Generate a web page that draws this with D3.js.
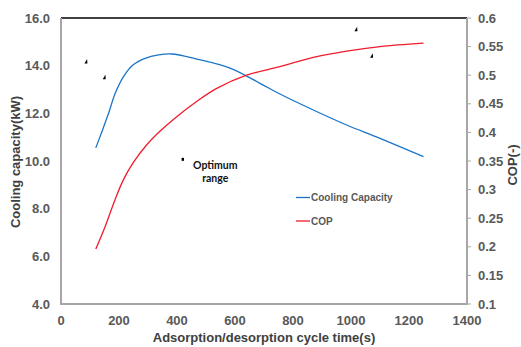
<!doctype html>
<html>
<head>
<meta charset="utf-8">
<script src="https://cdn.jsdelivr.net/npm/d3@7"></script>
<style>
  body { margin: 0; background: #fff; }
  svg { display: block; font-family: "Liberation Sans", Arial, sans-serif; }
</style>
</head>
<body>
<script>
// Cooling capacity (kW) vs cycle time (s).
const capTime = [120, 141, 164, 187, 216, 248, 290, 336, 382, 462, 583, 686, 755, 870, 985, 1100, 1250];
const capValue = [10.55, 11.23, 12.0, 12.84, 13.55, 14.03, 14.31, 14.45, 14.49, 14.3, 13.9, 13.26, 12.81, 12.14, 11.51, 10.95, 10.18];

// COP (-) vs cycle time (s).
const copTime = [120, 152, 186, 215, 249, 295, 341, 400, 470, 537, 640, 755, 870, 985, 1100, 1250];
const copValue = [0.196, 0.235, 0.282, 0.317, 0.347, 0.378, 0.402, 0.428, 0.455, 0.477, 0.5, 0.515, 0.531, 0.542, 0.55, 0.556];

// Small stray marks in the original figure (time, kW).
const markTime = [86, 149, 1017, 1071];
const markValue = [14.17, 13.51, 15.53, 14.42];

const xTicks = [0, 200, 400, 600, 800, 1000, 1200, 1400];
const yLeftTicks = [4, 6, 8, 10, 12, 14, 16];
const yRightTicks = [0.1, 0.15, 0.2, 0.25, 0.3, 0.35, 0.4, 0.45, 0.5, 0.55, 0.6];

const width = 521;
const height = 347;
const marginTop = 18;
const marginRight = 54;
const marginBottom = 43;
const marginLeft = 61;

const x = d3.scaleLinear([0, 1400], [marginLeft, width - marginRight]);
const yL = d3.scaleLinear([4, 16], [height - marginBottom, marginTop]);
const yR = d3.scaleLinear([0.1, 0.6], [height - marginBottom, marginTop]);

const svg = d3.select("body").append("svg")
    .attr("width", width)
    .attr("height", height);

const tickColor = "#595959";
const axisColor = "#a6a6a6";

// Frame: black top, grey left/bottom/right.
svg.append("line")
    .attr("x1", x(0)).attr("x2", x(1400))
    .attr("y1", yL(16)).attr("y2", yL(16))
    .attr("stroke", "#000").attr("stroke-width", 1.5);

svg.append("line")
    .attr("x1", x(0)).attr("x2", x(0))
    .attr("y1", yL(16)).attr("y2", yL(4))
    .attr("stroke", axisColor).attr("stroke-width", 2);

svg.append("line")
    .attr("x1", x(1400)).attr("x2", x(1400))
    .attr("y1", yL(16)).attr("y2", yL(4))
    .attr("stroke", axisColor).attr("stroke-width", 2);

svg.append("line")
    .attr("x1", x(0) - 1).attr("x2", x(1400) + 1)
    .attr("y1", yL(4)).attr("y2", yL(4))
    .attr("stroke", axisColor).attr("stroke-width", 2);

// Left axis labels.
svg.append("g")
    .attr("font-size", 13).attr("font-weight", "bold").attr("fill", tickColor)
    .attr("text-anchor", "end")
  .selectAll("text")
  .data(yLeftTicks)
  .join("text")
    .attr("x", marginLeft - 11)
    .attr("y", (d) => yL(d))
    .attr("dy", "0.36em")
    .text((d) => d.toFixed(1));

// Right axis ticks and labels.
const gR = svg.append("g")
  .selectAll("g")
  .data(yRightTicks)
  .join("g")
    .attr("transform", (d) => `translate(${x(1400)},${yR(d)})`);

gR.append("line")
    .attr("x1", 0).attr("x2", 4)
    .attr("stroke", axisColor).attr("stroke-width", 1);

gR.append("text")
    .attr("x", 11)
    .attr("dy", "0.36em")
    .attr("font-size", 13).attr("font-weight", "bold").attr("fill", tickColor)
    .text((d) => d3.format("")(+d.toFixed(2)));

// Bottom axis labels.
svg.append("g")
    .attr("font-size", 13).attr("font-weight", "bold").attr("fill", tickColor)
    .attr("text-anchor", "middle")
  .selectAll("text")
  .data(xTicks)
  .join("text")
    .attr("x", (d) => x(d))
    .attr("y", height - marginBottom + 21)
    .text((d) => d);

// Axis titles.
svg.append("text")
    .attr("x", (x(0) + x(1400)) / 2)
    .attr("y", 342)
    .attr("text-anchor", "middle")
    .attr("font-size", 13).attr("font-weight", "bold").attr("fill", "#404040")
    .text("Adsorption/desorption cycle time(s)");

svg.append("text")
    .attr("transform", `translate(20,${(yL(4) + yL(16)) / 2 + 1}) rotate(-90)`)
    .attr("text-anchor", "middle")
    .attr("font-size", 13).attr("font-weight", "bold").attr("fill", "#404040")
    .text("Cooling capacity(kW)");

svg.append("text")
    .attr("transform", `translate(517,${(yL(4) + yL(16)) / 2 + 4}) rotate(-90)`)
    .attr("text-anchor", "middle")
    .attr("font-size", 13).attr("font-weight", "bold").attr("fill", "#404040")
    .text("COP(-)");

// Curves.
const capLine = d3.line()
    .x((i) => x(capTime[i]))
    .y((i) => yL(capValue[i]))
    .curve(d3.curveCatmullRom.alpha(0.5));

const copLine = d3.line()
    .x((i) => x(copTime[i]))
    .y((i) => yR(copValue[i]))
    .curve(d3.curveCatmullRom.alpha(0.5));

svg.append("path")
    .attr("d", capLine(d3.range(capTime.length)))
    .attr("fill", "none")
    .attr("stroke", "#1a75c9")
    .attr("stroke-width", 1.3);

svg.append("path")
    .attr("d", copLine(d3.range(copTime.length)))
    .attr("fill", "none")
    .attr("stroke", "#f01c2c")
    .attr("stroke-width", 1.3);

// Stray little wedges.
svg.append("g")
  .selectAll("path")
  .data(d3.range(markTime.length))
  .join("path")
    .attr("transform", (i) => `translate(${x(markTime[i])},${yL(markValue[i])})`)
    .attr("d", "M-1.5,2L1.5,2L1.2,-2.5Z")
    .attr("fill", "#000");

svg.append("rect")
    .attr("x", x(420) - 1.2).attr("y", yL(10.07) - 1.5)
    .attr("width", 2.4).attr("height", 3)
    .attr("fill", "#000");

// "Optimum range" annotation.
svg.append("text")
    .attr("x", x(532))
    .attr("y", yL(10.1) + 1)
    .attr("text-anchor", "middle")
    .attr("font-family", "Lato, 'Open Sans', sans-serif")
    .attr("font-size", 10.5).attr("font-weight", "bold").attr("fill", "#111")
    .call((t) => t.append("tspan").attr("x", x(532)).attr("dy", "0.9em").text("Optimum"))
    .call((t) => t.append("tspan").attr("x", x(532)).attr("dy", "1.25em").text("range"));

// Legend.
const legend = svg.append("g")
    .attr("font-size", 10).attr("font-weight", "bold").attr("fill", tickColor)
  .selectAll("g")
  .data([["Cooling Capacity", "#1a75c9"], ["COP", "#f01c2c"]])
  .join("g")
    .attr("transform", (d, i) => `translate(296,${197.5 + i * 23.5})`);

legend.append("line")
    .attr("x1", 0).attr("x2", 14)
    .attr("stroke", (d) => d[1]).attr("stroke-width", 1.3);

legend.append("text")
    .attr("x", 15)
    .attr("dy", "0.36em")
    .text((d) => d[0]);
</script>
</body>
</html>
